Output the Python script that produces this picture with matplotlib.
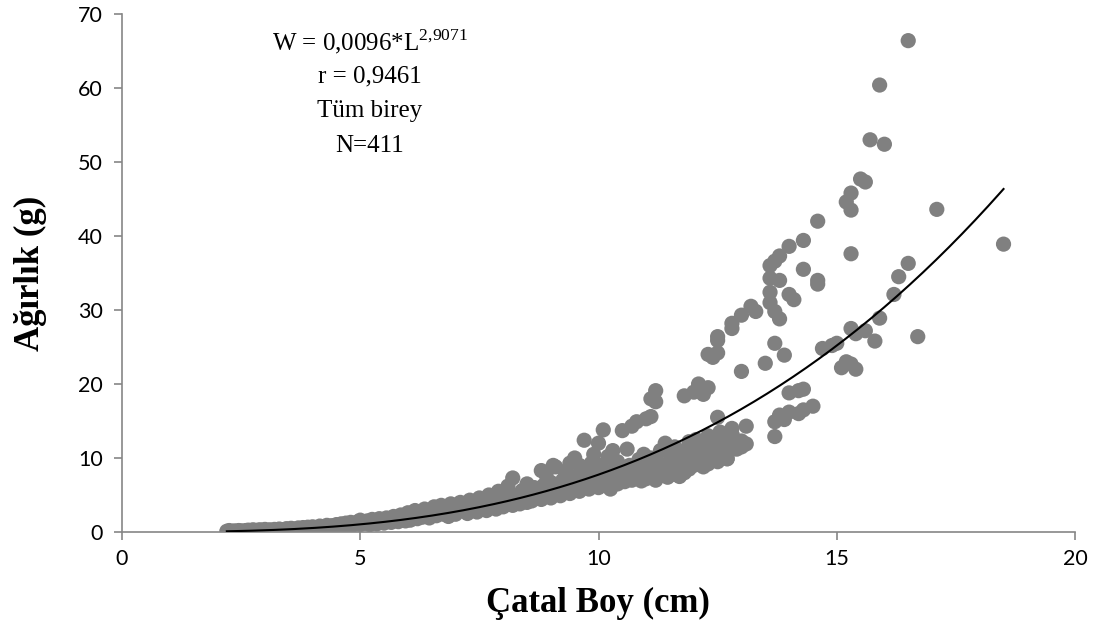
import matplotlib
matplotlib.use("Agg")
import matplotlib.pyplot as plt
import numpy as np

# ---- data (Çatal Boy cm, Ağırlık g) ----
L_small = [2.2,2.25,2.3,2.35,2.4,2.45,2.5,2.55,2.6,2.65,2.7,2.75,2.8,2.85,2.9,2.95,3.0,3.0,
           3.1,3.15,3.2,3.3,3.3,3.4,3.45,3.5,3.55,3.6,3.65,3.7,3.75,3.8,3.85,3.9,3.95,4.0,4.0,
           4.1,4.15,4.2,4.25,4.3,4.35,4.4,4.45,4.5,4.55,4.6,4.65,4.7,4.75,4.8,4.85,4.9,4.95,5.0,5.0]
W_small = [0.1,0.2,0.05,0.15,0.1,0.2,0.15,0.1,0.2,0.25,0.15,0.3,0.2,0.25,0.3,0.2,0.35,0.15,
           0.3,0.2,0.35,0.4,0.25,0.3,0.45,0.35,0.5,0.4,0.3,0.55,0.45,0.6,0.4,0.65,0.5,0.7,0.45,
           0.6,0.8,0.55,0.75,0.9,0.65,0.85,0.7,1.0,0.8,1.1,0.75,1.2,0.9,1.3,0.95,1.1,1.4,1.0,1.6]

L_mid = [5.1,5.15,5.2,5.25,5.3,5.35,5.4,5.45,5.5,5.55,5.6,5.65,5.7,5.75,5.8,5.85,5.9,5.95,6.0,6.0,6.05,
         6.1,6.15,6.2,6.25,6.3,6.35,6.4,6.45,6.5,6.55,6.6,6.65,6.7,6.75,6.8,6.85,6.9,6.95,7.0,7.0,
         7.1,7.15,7.2,7.25,7.3,7.35,7.4,7.45,7.5,7.55,7.6,7.65,7.7,7.75,7.8,7.85,7.9,7.95,8.0,8.0,8.1,8.2,8.15]
W_mid = [1.2,1.5,1.0,1.7,1.3,1.1,1.8,1.4,1.2,1.9,1.5,1.3,2.1,1.6,1.4,2.3,1.8,1.5,2.6,2.0,1.6,
         2.2,2.9,1.8,2.5,2.0,3.1,2.3,1.9,2.8,3.4,2.2,2.6,3.6,2.4,3.0,2.1,3.8,2.7,3.2,2.4,
         4.0,2.9,3.5,2.5,4.3,3.1,3.8,2.7,4.6,3.3,4.1,2.9,5.0,3.6,4.4,3.1,5.5,3.9,4.7,3.4,6.2,7.3,5.2]

L_band = [8.2,8.25,8.3,8.35,8.4,8.45,8.5,8.5,8.55,8.6,8.65,8.7,8.75,8.8,8.8,8.85,8.9,8.9,8.95,9.0,9.0,9.05,
          9.1,9.1,9.15,9.2,9.25,9.3,9.3,9.35,9.4,9.4,9.45,9.5,9.5,9.55,9.6,9.6,9.65,9.7,9.7,9.75,9.8,9.8,9.85,9.9,9.9,9.95,10.0,10.0,10.0,
          10.1,10.05,10.1,10.15,10.2,10.2,10.25,10.3,10.3,10.35,10.4,10.4,10.45,10.5,10.5,10.55,10.6,10.6,10.65,10.7,10.7,10.75,10.8,10.8,10.85,10.9,10.9,10.95,11.0,11.0,11.0,
          11.1,11.1,11.2,11.2,11.05,11.1,11.15,11.2,11.25,11.3,11.3,11.35,11.4,11.4,11.45,11.5,11.5,11.55,11.6,11.6,11.65,11.7,11.7,11.75,11.8,11.8,11.8,11.85,11.9,11.9,11.95,12.0,12.0,12.0,
          12.1,12.2,12.3,12.05,12.1,12.15,12.2,12.2,12.25,12.3,12.3,12.35,12.4,12.4,12.45,12.5,12.5,12.5,12.55,12.6,12.6,12.65,12.7,12.7,12.75,12.8,12.8,12.85,12.9,13.0,13.1,13.1]
W_band = [3.6,4.3,5.0,3.8,5.6,4.5,4.0,6.5,5.2,4.2,6.0,4.8,5.5,4.4,8.3,6.3,5.0,7.7,5.8,4.6,6.7,9.0,
          5.3,8.8,6.0,4.9,7.0,5.6,8.2,6.4,5.2,9.3,7.4,6.0,10.0,6.8,5.5,9.0,7.8,12.4,6.3,8.5,5.8,7.1,9.3,6.6,10.5,8.0,6.0,12.0,7.4,
          13.8,9.0,6.3,8.2,7.0,10.2,5.8,11.0,7.6,8.8,6.5,9.5,7.2,13.7,8.4,6.8,11.2,7.8,9.0,14.3,7.0,8.6,14.9,7.5,9.8,6.9,8.2,10.5,15.3,7.2,9.0,
          15.6,18.0,19.1,17.6,7.8,10.0,8.5,7.0,9.4,11.0,7.6,8.2,12.0,9.0,7.4,10.5,8.0,9.6,7.8,11.5,8.6,10.0,7.5,9.2,18.4,11.0,8.0,9.6,12.2,8.5,10.4,18.9,9.0,11.5,
          20.0,18.6,19.5,12.5,9.5,10.8,8.8,12.0,10.2,9.2,13.0,11.0,9.8,12.5,10.5,15.5,11.8,9.5,13.5,10.8,12.3,11.5,9.9,13.0,11.0,14.0,13.2,12.0,11.2,12.3,11.9,14.3]

L_big = [16.5,15.9,15.7,16.0,15.5,15.6,15.3,15.2,15.3,14.6,17.1,18.5,14.3,14.0,13.8,13.7,13.6,15.3,16.5,
         13.6,13.8,14.6,14.6,13.6,14.0,14.1,14.3,13.6,13.7,13.8,13.2,13.3,13.0,12.8,12.8,12.5,12.5,12.3,12.4,12.5,
         13.7,13.9,13.5,13.0,16.3,16.2,16.7,15.9,15.8,15.6,15.3,15.4,14.7,14.9,15.0,15.1,15.3,15.4,15.2,
         14.2,14.3,14.0,14.0,14.3,14.5,14.2,13.7,13.9,13.8,13.7,12.8,13.0,12.7]
W_big = [66.4,60.4,53.0,52.4,47.7,47.3,45.8,44.6,43.5,42.0,43.6,38.9,39.4,38.6,37.3,36.6,36.0,37.6,36.3,
         34.3,34.0,34.0,33.5,32.4,32.1,31.4,35.5,31.0,29.8,28.8,30.5,29.8,29.3,28.2,27.5,26.4,25.9,24.0,23.6,24.2,
         25.5,23.9,22.8,21.7,34.5,32.1,26.4,28.9,25.8,27.2,27.5,26.8,24.8,25.2,25.5,22.2,22.7,22.0,23.0,
         19.1,19.3,18.8,16.2,16.5,17.0,16.0,14.9,15.2,15.8,12.9,13.2,11.5,9.9]

L = L_small + L_mid + L_band + L_big
W = W_small + W_mid + W_band + W_big

a_coef = 0.0096
b_exp = 2.9071
x_ticks = [0, 5, 10, 15, 20]
y_ticks = [0, 10, 20, 30, 40, 50, 60, 70]
annot_lines = ["r = 0,9461", "Tüm birey", "N=411"]

plt.rcParams["mathtext.fontset"] = "custom"
plt.rcParams["mathtext.rm"] = "Liberation Serif"

fig = plt.figure(figsize=(11.04, 6.35), dpi=100)
ax = fig.add_axes([122/1104, 1-532/635, (1075-122)/1104, (532-14)/635])

ax.scatter(L, W, s=120, color="#808080", edgecolors="none", zorder=2)
xf = np.linspace(min(L), max(L), 300)
ax.plot(xf, a_coef * xf ** b_exp, color="black", lw=1.5, zorder=3)

ax.set_xlim(0, 20)
ax.set_ylim(0, 70)
ax.set_xticks(x_ticks)
ax.set_yticks(y_ticks)
for s in ["top", "right"]:
    ax.spines[s].set_visible(False)
for s in ["left", "bottom"]:
    ax.spines[s].set_color("#868686")
    ax.spines[s].set_linewidth(1.2)
ax.tick_params(axis="both", colors="#868686", length=6, width=1.2, direction="out",
               labelcolor="black", labelsize=15.5)
for lab in ax.get_xticklabels() + ax.get_yticklabels():
    lab.set_fontfamily("Lato")
ax.tick_params(axis="x", pad=6)
ax.tick_params(axis="y", pad=8)

fig.text(598/1104, 1-603/635, "Çatal Boy (cm)", ha="center", va="center",
         fontsize=25, fontweight="bold", family="Liberation Serif")
fig.text(30/1104, 1-273/635, "Ağırlık (g)", ha="center", va="center", rotation=90,
         fontsize=25, fontweight="bold", family="Liberation Serif")

fig.text(370/1104, 1-42/635, r"W = 0,0096*L$^{\mathrm{2{,}9071}}$", ha="center", va="center",
         fontsize=18, family="Liberation Serif")
for i, t in enumerate(annot_lines):
    fig.text(370/1104, 1-(76 + 35*i)/635, t, ha="center", va="center", fontsize=18, family="Liberation Serif")

fig.savefig("out.png", dpi=100)
